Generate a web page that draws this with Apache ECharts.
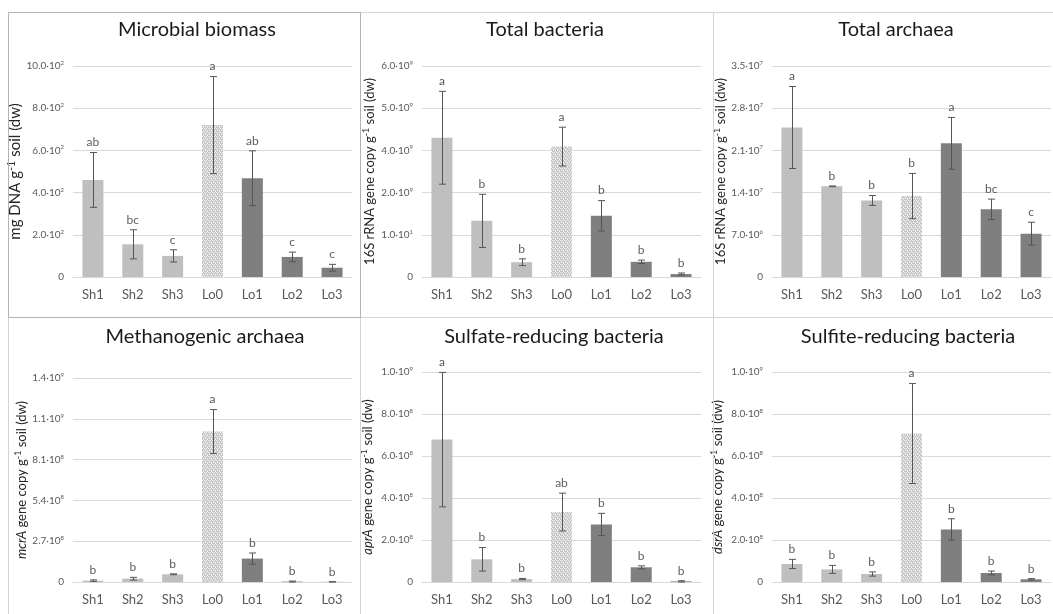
<!DOCTYPE html>
<html>
<head>
<meta charset="utf-8">
<script src="https://cdn.jsdelivr.net/npm/echarts@6/dist/echarts.min.js"></script>
<style>html,body{margin:0;padding:0;background:#fff}#c{width:1053px;height:614px}</style>
</head>
<body>
<div id="c"></div>
<script>
// ---------- DATA ----------
const categories = ['Sh1', 'Sh2', 'Sh3', 'Lo0', 'Lo1', 'Lo2', 'Lo3'];

// Microbial biomass (mg DNA g-1 soil)
const biomassMean = [460, 155, 100, 720, 468, 95, 44];
const biomassSd = [130, 69, 29, 230, 130, 23, 16];
const biomassLetters = ['ab', 'bc', 'c', 'a', 'ab', 'c', 'c'];
const biomassTicks = ['0', '2.0·10^2', '4.0·10^2', '6.0·10^2', '8.0·10^2', '10.0·10^2'];

// Total bacteria (in gridline units, as printed on the original axis)
const bacteriaMean = [3.30, 1.33, 0.35, 3.09, 1.45, 0.36, 0.07];
const bacteriaSd = [1.10, 0.63, 0.08, 0.46, 0.36, 0.04, 0.025];
const bacteriaLetters = ['a', 'b', 'b', 'a', 'b', 'b', 'b'];
const bacteriaTicks = ['0', '1.0·10^1', '2.0·10^9', '4.0·10^9', '5.0·10^9', '6.0·10^9'];

// Total archaea (x10^7)
const archaeaMean = [2.48, 1.504, 1.27, 1.343, 2.217, 1.122, 0.719];
const archaeaSd = [0.68, 0.006, 0.082, 0.375, 0.43, 0.17, 0.19];
const archaeaLetters = ['a', 'b', 'b', 'b', 'a', 'bc', 'c'];
const archaeaTicks = ['0', '7.0·10^6', '1.4·10^7', '2.1·10^7', '2.8·10^7', '3.5·10^7'];

// Methanogenic archaea (x10^8)
const mcrMean = [0.09, 0.22, 0.51, 9.96, 1.55, 0.03, 0.01];
const mcrSd = [0.05, 0.09, 0.03, 1.45, 0.37, 0.03, 0.01];
const mcrLetters = ['b', 'b', 'b', 'a', 'b', 'b', 'b'];
const mcrTicks = ['0', '2.7·10^8', '5.4·10^8', '8.1·10^8', '1.1·10^9', '1.4·10^9'];

// Sulfate-reducing bacteria (x10^8)
const aprMean = [6.78, 1.08, 0.14, 3.33, 2.74, 0.70, 0.03];
const aprSd = [3.20, 0.56, 0.03, 0.90, 0.53, 0.07, 0.03];
const aprLetters = ['a', 'b', 'b', 'ab', 'b', 'b', 'b'];
const aprTicks = ['0', '2.0·10^8', '4.0·10^8', '6.0·10^8', '8.0·10^8', '1.0·10^9'];

// Sulfite-reducing bacteria (x10^8)
const dsrMean = [0.86, 0.60, 0.38, 7.07, 2.50, 0.43, 0.13];
const dsrSd = [0.22, 0.19, 0.10, 2.38, 0.51, 0.09, 0.03];
const dsrLetters = ['b', 'b', 'b', 'a', 'b', 'b', 'b'];
const dsrTicks = ['0', '2.0·10^8', '4.0·10^8', '6.0·10^8', '8.0·10^8', '1.0·10^9'];

const titles = ['Microbial biomass', 'Total bacteria', 'Total archaea',
  'Methanogenic archaea', 'Sulfate-reducing bacteria', 'Sulfite-reducing bacteria'];

// ---------- STYLE / LAYOUT ----------
const FONT = 'Lato, "Open Sans", sans-serif';
const pc = document.createElement('canvas');
pc.width = 4; pc.height = 4;
const pctx = pc.getContext('2d');
pctx.fillStyle = '#c6c6c6'; pctx.fillRect(0, 0, 4, 4);
pctx.fillStyle = '#eeeeee';
[[0, 0], [2, 0], [1, 2], [3, 2], [1, 1], [3, 3]].forEach(q => pctx.fillRect(q[0], q[1], 1, 1));
const lo0Pattern = { image: pc, repeat: 'repeat' };
const barColors = ['#bfbfbf', '#bfbfbf', '#bfbfbf', lo0Pattern, '#7f7f7f', '#7f7f7f', '#7f7f7f'];

const panels = [
  { mean: biomassMean, sd: biomassSd, letters: biomassLetters, ticks: biomassTicks, max: 1000, interval: 200,
    grid: { left: 73, top: 66, width: 279, height: 211 }, nameGap: 40, nameSize: 15, italic: '', name: 'mg DNA g',
    title: [197, 30] },
  { mean: bacteriaMean, sd: bacteriaSd, letters: bacteriaLetters, ticks: bacteriaTicks, max: 5, interval: 1,
    grid: { left: 422, top: 66, width: 279, height: 211 }, nameGap: 44, nameSize: 13, italic: '', name: '16S rRNA gene copy g',
    title: [545, 30] },
  { mean: archaeaMean, sd: archaeaSd, letters: archaeaLetters, ticks: archaeaTicks, max: 3.5, interval: 0.7,
    grid: { left: 772, top: 66, width: 279, height: 211 }, nameGap: 39, nameSize: 13, italic: '', name: '16S rRNA gene copy g',
    title: [896, 30] },
  { mean: mcrMean, sd: mcrSd, letters: mcrLetters, ticks: mcrTicks, max: 13.5, interval: 2.7,
    grid: { left: 73, top: 378, width: 279, height: 204 }, nameGap: 42, nameSize: 13, italic: 'mcrA', name: ' gene copy g',
    title: [205, 337] },
  { mean: aprMean, sd: aprSd, letters: aprLetters, ticks: aprTicks, max: 10, interval: 2,
    grid: { left: 422, top: 372, width: 279, height: 210 }, nameGap: 46, nameSize: 13, italic: 'aprA', name: ' gene copy g',
    title: [554, 337] },
  { mean: dsrMean, sd: dsrSd, letters: dsrLetters, ticks: dsrTicks, max: 10, interval: 2,
    grid: { left: 772, top: 372, width: 279, height: 210 }, nameGap: 46, nameSize: 13, italic: 'dsrA', name: ' gene copy g',
    title: [908, 337] }
];

function tickRich(label) {
  const p = label.split('^');
  return p.length === 2 ? '{b|' + p[0] + '}{s|' + p[1] + '}' : '{b|' + label + '}';
}

const grids = [], xAxes = [], yAxes = [], series = [], graphics = [];

// panel borders
graphics.push({ type: 'rect', shape: { x: 8.5, y: 12.5, width: 352, height: 305 }, style: { fill: 'none', stroke: '#b3b3b3', lineWidth: 1 }, z: 10 });
[[360.5, 12.5, 353, 305], [713.5, 12.5, 345, 305], [8.5, 317.5, 352, 300], [360.5, 317.5, 353, 300], [713.5, 317.5, 345, 300]]
  .forEach(r => graphics.push({ type: 'rect', shape: { x: r[0], y: r[1], width: r[2], height: r[3] }, style: { fill: 'none', stroke: '#d4d4d4', lineWidth: 1 }, z: 9 }));

panels.forEach((p, k) => {
  grids.push(Object.assign({ containLabel: false }, p.grid));
  xAxes.push({
    type: 'category', gridIndex: k, data: categories,
    axisLine: { lineStyle: { color: '#d9d9d9' } }, axisTick: { show: false },
    axisLabel: { color: '#595959', fontSize: 13, fontFamily: FONT, margin: 11 }
  });
  const nameStr = (p.italic ? '{i|' + p.italic + '}' : '') + '{n|' + p.name + '}{s|-1}{n| soil (dw)}';
  const ns = p.nameSize;
  yAxes.push({
    type: 'value', gridIndex: k, min: 0, max: p.max, interval: p.interval,
    axisLine: { show: false }, axisTick: { show: false },
    splitLine: { lineStyle: { color: '#d9d9d9' } },
    axisLabel: {
      margin: 9,
      formatter: v => tickRich(p.ticks[Math.round(v / p.interval)] || ''),
      rich: {
        b: { fontSize: 10, color: '#595959', fontFamily: FONT, lineHeight: 12 },
        s: { fontSize: 6, color: '#595959', fontFamily: FONT, verticalAlign: 'top', lineHeight: 8 }
      }
    },
    name: nameStr, nameLocation: 'middle', nameGap: p.nameGap, nameRotate: 90,
    nameTextStyle: {
      rich: {
        n: { fontSize: ns, color: '#262626', fontFamily: FONT, lineHeight: ns + 3 },
        i: { fontSize: ns, color: '#262626', fontFamily: FONT, fontStyle: 'italic', lineHeight: ns + 3 },
        s: { fontSize: Math.round(ns * 0.7), color: '#262626', fontFamily: FONT, verticalAlign: 'top', lineHeight: Math.round(ns * 0.7) + 1 }
      }
    }
  });
  series.push({
    type: 'bar', xAxisIndex: k, yAxisIndex: k, barWidth: 21,
    data: p.mean.map((v, i) => ({ value: v, itemStyle: { color: barColors[i] } })),
    silent: true, animation: false
  });
  series.push({
    type: 'custom', xAxisIndex: k, yAxisIndex: k, animation: false, silent: true,
    data: p.mean.map((v, i) => [i, v + p.sd[i], Math.max(0, v - p.sd[i])]),
    encode: { x: 0, y: [1, 2] },
    renderItem: (params, api) => {
      const hi = api.coord([api.value(0), api.value(1)]);
      const lo = api.coord([api.value(0), api.value(2)]);
      const hw = 3.5, st = { stroke: '#555555', lineWidth: 1 };
      const x = Math.round(hi[0]) + 0.5;
      return {
        type: 'group', children: [
          { type: 'line', shape: { x1: x, y1: hi[1], x2: x, y2: lo[1] }, style: st },
          { type: 'line', shape: { x1: x - hw, y1: hi[1], x2: x + hw, y2: hi[1] }, style: st },
          { type: 'line', shape: { x1: x - hw, y1: lo[1], x2: x + hw, y2: lo[1] }, style: st }
        ]
      };
    },
    z: 3
  });
  series.push({
    type: 'scatter', xAxisIndex: k, yAxisIndex: k, symbolSize: 0, animation: false, silent: true,
    data: p.mean.map((v, i) => ({
      value: [i, v + p.sd[i]], name: p.letters[i],
      label: { color: p.letters[i] === 'a' ? '#262626' : '#3f2a3d' }
    })),
    label: {
      show: true, position: 'top', distance: 4,
      formatter: d => d.name,
      fontSize: 12, fontFamily: FONT
    }
  });
  graphics.push({
    type: 'text', x: p.title[0], y: p.title[1],
    style: { text: titles[k], fontSize: 20, fontFamily: FONT, fill: '#1a1a1a', textAlign: 'center', textVerticalAlign: 'middle' },
    z: 10
  });
});

const chart = echarts.init(document.getElementById('c'), null, { renderer: 'canvas' });
chart.setOption({
  animation: false,
  backgroundColor: '#fff',
  grid: grids, xAxis: xAxes, yAxis: yAxes, series: series,
  graphic: graphics
});
</script>
</body>
</html>
